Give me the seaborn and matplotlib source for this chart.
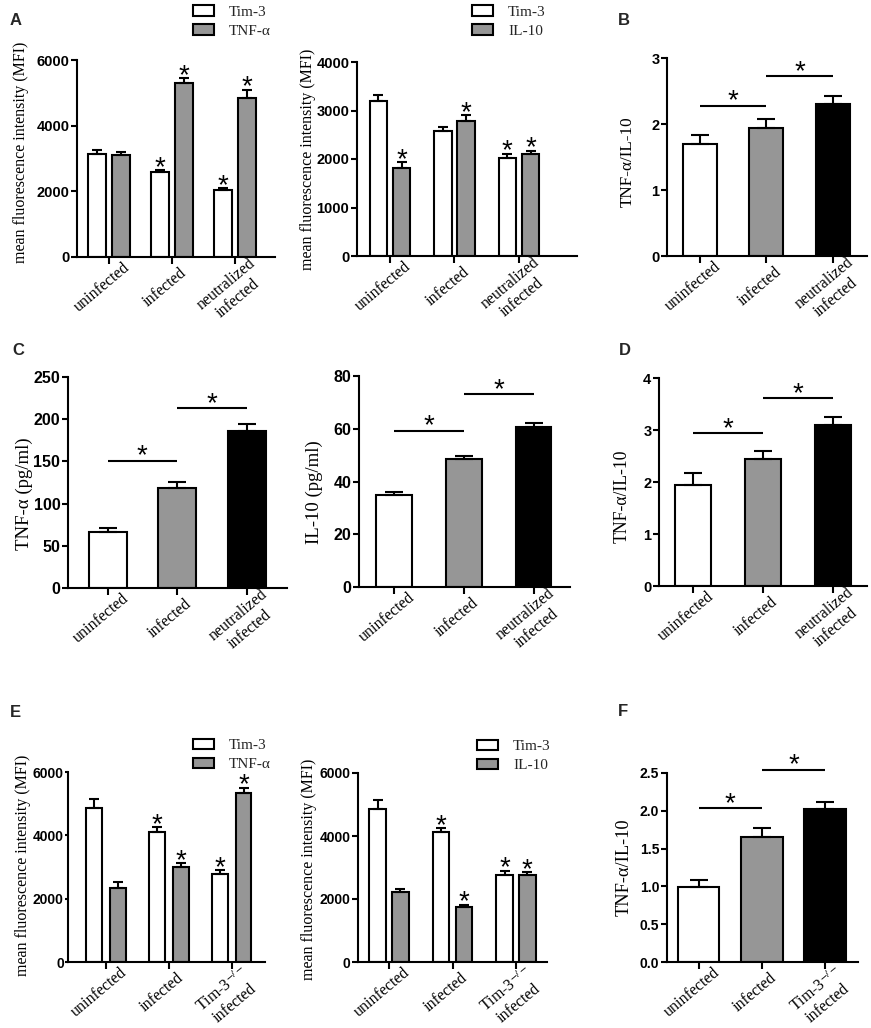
import numpy as np
import pandas as pd
import matplotlib
matplotlib.use("Agg")
import matplotlib.pyplot as plt
import seaborn as sns
from matplotlib.patches import Patch
from matplotlib.transforms import ScaledTranslation

sns.set_theme(style="ticks")
plt.rcParams['font.family'] = ['Liberation Sans', 'DejaVu Sans']
plt.rcParams['mathtext.fontset'] = 'stix'
SERIF = ['Liberation Serif', 'DejaVu Serif']
SANS = ['Liberation Sans', 'DejaVu Sans']
WHITE, GREY, BLACK = 'white', '#969696', 'black'

# ---------------- data ----------------
groups_neut = ["uninfected", "infected", "neutralized\ninfected"]
groups_ko = ["uninfected", "infected", "Tim-3$^{-/-}$\ninfected"]

# Panel A (left): Tim-3 / TNF-alpha MFI
a1_names = ["Tim-3", "TNF-α"]
a1_tim3 = [3150, 2580, 2030]
a1_tim3_err = [100, 60, 70]
a1_tim3_sig = [False, True, True]
a1_tnf = [3120, 5300, 4830]
a1_tnf_err = [80, 150, 270]
a1_tnf_sig = [False, True, True]

# Panel A (right): Tim-3 / IL-10 MFI
a2_names = ["Tim-3", "IL-10"]
a2_tim3 = [3200, 2570, 2030]
a2_tim3_err = [120, 80, 80]
a2_tim3_sig = [False, False, True]
a2_il10 = [1820, 2780, 2100]
a2_il10_err = [120, 120, 70]
a2_il10_sig = [True, True, True]

# Panel B: TNF-a/IL-10 ratio
b_vals = [1.69, 1.94, 2.31]
b_err = [0.14, 0.13, 0.12]
b_brackets = [(0, 1, 2.28), (1, 2, 2.73)]

# Panel C: TNF-a and IL-10 (pg/ml)
c1_vals = [66, 119, 186]
c1_err = [5.5, 7, 8]
c1_brackets = [(0, 1, 151), (1, 2, 213)]
c2_vals = [34.7, 48.5, 60.6]
c2_err = [1.3, 1.3, 1.4]
c2_brackets = [(0, 1, 59.3), (1, 2, 73.2)]

# Panel D: TNF-a/IL-10 ratio
d_vals = [1.94, 2.44, 3.09]
d_err = [0.24, 0.16, 0.16]
d_brackets = [(0, 1, 2.94), (1, 2, 3.61)]

# Panel E (left): Tim-3 / TNF-alpha MFI
e1_names = ["Tim-3", "TNF-α"]
e1_tim3 = [4870, 4120, 2770]
e1_tim3_err = [290, 130, 140]
e1_tim3_sig = [False, True, True]
e1_tnf = [2330, 3000, 5350]
e1_tnf_err = [190, 130, 160]
e1_tnf_sig = [False, True, True]

# Panel E (right): Tim-3 / IL-10 MFI
e2_names = ["Tim-3", "IL-10"]
e2_tim3 = [4870, 4120, 2770]
e2_tim3_err = [280, 125, 130]
e2_tim3_sig = [False, True, True]
e2_il10 = [2210, 1735, 2750]
e2_il10_err = [95, 85, 95]
e2_il10_sig = [False, True, True]

# Panel F: TNF-a/IL-10 ratio
f_vals = [0.99, 1.66, 2.02]
f_err = [0.09, 0.115, 0.09]
f_brackets = [(0, 1, 2.037), (1, 2, 2.544)]

# ---------------- figure ----------------
W, H = 871, 1028
fig = plt.figure(figsize=(W / 100, H / 100), dpi=100)


def px_axes(x0, x1, ytop, ybot):
    return fig.add_axes([x0 / W, (H - ybot) / H, (x1 - x0) / W, (ybot - ytop) / H])


STAR_FS = 20


def star(ax, x, y, dpx):
    off = dpx * 0.72 - 0.573 * STAR_FS
    ax.annotate('*', xy=(x, y), xytext=(0, off), textcoords='offset points',
                ha='center', va='baseline', fontsize=STAR_FS, fontfamily=SANS,
                annotation_clip=False, color='black')


def style(ax, groups, ylim, yticks, xlim, ylabel, ylsize, lx, ly, ytsize,
          fmt="{:g}", ylen=4.5, ypad=1.0):
    sns.despine(ax=ax)
    for s in ('left', 'bottom'):
        ax.spines[s].set_linewidth(1.5)
        ax.spines[s].set_color('black')
    ax.set_ylim(*ylim)
    ax.set_xlim(*xlim)
    ax.set_yticks(yticks, labels=[fmt.format(t) for t in yticks],
                  fontweight='bold', fontsize=ytsize, fontfamily=SANS)
    ax.tick_params(axis='y', length=ylen, width=1.5, pad=ypad, colors='black')
    ax.tick_params(axis='x', length=5, width=1.5, pad=17, colors='black')
    ax.set_xticks(range(len(groups)), labels=groups, rotation=40, ha='center',
                  va='center', rotation_mode='anchor', fontfamily=SERIF,
                  fontsize=11.5, multialignment='center')
    for lab in ax.get_xticklabels():
        two = '\n' in lab.get_text()
        dx, dy = (-3, -4) if two else (-7, 0)
        lab.set_transform(lab.get_transform() +
                          ScaledTranslation(dx / 100, dy / 100, fig.dpi_scale_trans))
    ax.set_xlabel('')
    ax.set_ylabel(ylabel, fontfamily=SERIF, fontsize=ylsize, color='black')
    ax.yaxis.set_label_coords(lx, ly)
    ax.set_facecolor('none')


def grouped(ax, groups, s1, s1e, s1s, s2, s2e, s2s, names, width, gap, capsize=3.6):
    df = pd.DataFrame({"group": groups * 2, "value": s1 + s2,
                       "series": [names[0]] * len(s1) + [names[1]] * len(s2)})
    sns.barplot(data=df, x="group", y="value", hue="series", palette=[WHITE, GREY],
                width=width, gap=gap, edgecolor='black', linewidth=1.5,
                errorbar=None, legend=False, ax=ax, saturation=1)
    for cont, errs, sigs in zip(ax.containers, [s1e, s2e], [s1s, s2s]):
        xs = [r.get_x() + r.get_width() / 2 for r in cont]
        ys = [r.get_height() for r in cont]
        ax.errorbar(xs, ys, yerr=[np.zeros(len(errs)), errs], fmt='none',
                    ecolor='black', elinewidth=1.5, capsize=capsize, capthick=1.5)
        for x, y, e, s in zip(xs, ys, errs, sigs):
            if s:
                star(ax, x, y + e, 11)


def legend(ax, names, bx, by):
    handles = [Patch(facecolor=WHITE, edgecolor='black', linewidth=1.5),
               Patch(facecolor=GREY, edgecolor='black', linewidth=1.5)]
    ax.legend(handles, names, loc='upper left', bbox_to_anchor=(bx, by), frameon=False,
              prop={'family': SERIF, 'size': 11}, handlelength=1.35, handleheight=0.7,
              handletextpad=1.0, labelspacing=0.35, borderpad=0, borderaxespad=0)


def single(ax, groups, vals, errs, brackets, width, capsize=6.5):
    df = pd.DataFrame({"group": groups, "value": vals})
    sns.barplot(data=df, x="group", y="value", hue="group", palette=[WHITE, GREY, BLACK],
                width=width, edgecolor='black', linewidth=1.5, errorbar=None,
                legend=False, ax=ax, saturation=1)
    xs, ys = [], []
    for cont in ax.containers:
        for r in cont:
            xs.append(r.get_x() + r.get_width() / 2)
            ys.append(r.get_height())
    ax.errorbar(xs, ys, yerr=[np.zeros(len(errs)), errs], fmt='none',
                ecolor='black', elinewidth=1.5, capsize=capsize, capthick=1.5)
    for i0, i1, yb in brackets:
        ax.plot([i0, i1], [yb, yb], color='black', lw=1.5, clip_on=False,
                solid_capstyle='butt')
        star(ax, (i0 + i1) / 2, yb, 13)


MFI = "mean fluorescence intensity (MFI)"

# ---- A left
ax = px_axes(77, 275, 60, 257)
grouped(ax, groups_neut, a1_tim3, a1_tim3_err, a1_tim3_sig, a1_tnf, a1_tnf_err, a1_tnf_sig,
        a1_names, 0.76, 0.26)
style(ax, groups_neut, (0, 6000), [0, 2000, 4000, 6000], (-0.5, 2.63),
      MFI, 11.5, -0.242, 0.53, 10.5)
legend(ax, a1_names, 0.586, 1.28)

# ---- A right
ax = px_axes(357, 577, 62, 256)
grouped(ax, groups_neut, a2_tim3, a2_tim3_err, a2_tim3_sig, a2_il10, a2_il10_err, a2_il10_sig,
        a2_names, 0.72, 0.25)
style(ax, groups_neut, (0, 4000), [0, 1000, 2000, 3000, 4000], (-0.51, 2.9),
      MFI, 11.5, -0.186, 0.5, 10.5)
legend(ax, a2_names, 0.523, 1.294)

# ---- B
ax = px_axes(667, 867, 58, 256)
single(ax, groups_neut, b_vals, b_err, b_brackets, 0.51)
style(ax, groups_neut, (0, 3), [0, 1, 2, 3], (-0.49, 2.51),
      "TNF-α/IL-10", 12.3, -0.155, 0.475, 10.5)

# ---- C left
ax = px_axes(68, 287, 377, 588)
single(ax, groups_neut, c1_vals, c1_err, c1_brackets, 0.55)
style(ax, groups_neut, (0, 250), [0, 50, 100, 150, 200, 250], (-0.57, 2.58),
      "TNF-α (pg/ml)", 13.5, -0.16, 0.445, 11.5)

# ---- C right
ax = px_axes(359, 570, 376, 587)
single(ax, groups_neut, c2_vals, c2_err, c2_brackets, 0.51)
style(ax, groups_neut, (0, 80), [0, 20, 40, 60, 80], (-0.5, 2.52),
      "IL-10 (pg/ml)", 13.5, -0.17, 0.45, 11.5)

# ---- D
ax = px_axes(659, 867, 378, 586)
single(ax, groups_neut, d_vals, d_err, d_brackets, 0.51)
style(ax, groups_neut, (0, 4), [0, 1, 2, 3, 4], (-0.49, 2.49),
      "TNF-α/IL-10", 12.7, -0.135, 0.43, 10.5)

# ---- E left
ax = px_axes(68, 265, 772, 962)
grouped(ax, groups_ko, e1_tim3, e1_tim3_err, e1_tim3_sig, e1_tnf, e1_tnf_err, e1_tnf_sig,
        e1_names, 0.76, 0.34)
style(ax, groups_ko, (0, 6000), [0, 2000, 4000, 6000], (-0.6, 2.53),
      MFI, 11.5, -0.186, 0.51, 10, ylen=2.5, ypad=0.5)
legend(ax, e1_names, 0.635, 1.176)

# ---- E right
ax = px_axes(358, 547, 773, 962)
grouped(ax, groups_ko, e2_tim3, e2_tim3_err, e2_tim3_sig, e2_il10, e2_il10_err, e2_il10_sig,
        e2_names, 0.72, 0.28)
style(ax, groups_ko, (0, 6000), [0, 2000, 4000, 6000], (-0.49, 2.49),
      MFI, 11.5, -0.215, 0.49, 10)
legend(ax, e2_names, 0.63, 1.177)

# ---- F
ax = px_axes(667, 858, 773, 962)
single(ax, groups_ko, f_vals, f_err, f_brackets, 0.66)
style(ax, groups_ko, (0, 2.5), [0, 0.5, 1.0, 1.5, 2.0, 2.5], (-0.5, 2.52),
      "TNF-α/IL-10", 13.2, -0.178, 0.5, 10, fmt="{:.1f}")

# ---- panel letters
for letter, x, y in [("A", 10, 13), ("B", 618, 13), ("C", 12, 343),
                     ("D", 619, 343), ("E", 10, 705), ("F", 618, 704)]:
    fig.text(x / W, 1 - y / H, letter, ha='left', va='top', fontsize=12,
             fontweight='bold', fontfamily=SANS)

fig.savefig("out.png", dpi=100)
